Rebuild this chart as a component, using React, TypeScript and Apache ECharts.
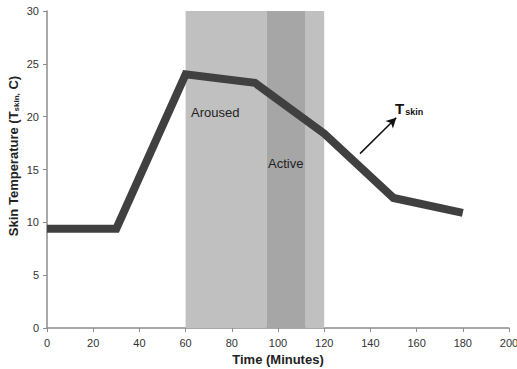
import React, { useEffect, useRef } from "react";
import * as echarts from "echarts";

const timeMinutes = [0, 30, 60, 90, 120, 150, 180];
const skinTemp = [9.4, 9.4, 24.0, 23.2, 18.4, 12.3, 10.9];
const arousedRange = [60, 120];
const activeRange = [95, 112];
const arrowFrom = [135.5, 16.5];
const arrowTo = [151.2, 19.9];

export default function App() {
  const ref = useRef<HTMLDivElement>(null);
  useEffect(() => {
    if (!ref.current) return;
    const chart = echarts.init(ref.current, undefined, { renderer: "svg" });
    const font = "Liberation Sans, Arial, sans-serif";
    chart.setOption({
      animation: false,
      textStyle: { fontFamily: font },
      grid: { left: 47, right: 8, top: 11, bottom: 41, containLabel: false, outerBoundsMode: "none" },
      xAxis: {
        type: "value",
        min: 0,
        max: 200,
        interval: 20,
        name: "Time (Minutes)",
        nameLocation: "middle",
        nameGap: 24,
        nameTextStyle: { fontWeight: "bold", fontSize: 13, color: "#222", fontFamily: font },
        axisLine: { lineStyle: { color: "#8c8c8c", width: 1.5 } },
        axisTick: { show: true, length: 4, lineStyle: { color: "#8c8c8c" } },
        axisLabel: { color: "#333", fontSize: 11, margin: 9, fontFamily: font },
        splitLine: { show: false },
      },
      yAxis: {
        type: "value",
        min: 0,
        max: 30,
        interval: 5,
        axisLine: { show: true, lineStyle: { color: "#8c8c8c", width: 1.5 } },
        axisTick: { show: true, length: 4, lineStyle: { color: "#8c8c8c" } },
        axisLabel: { color: "#333", fontSize: 11, margin: 8, fontFamily: font },
        splitLine: { show: false },
      },
      series: [
        {
          type: "line",
          data: timeMinutes.map((t, i) => [t, skinTemp[i]]),
          symbol: "none",
          lineStyle: { color: "#404040", width: 8, join: "miter" },
          z: 5,
          markArea: {
            silent: true,
            itemStyle: { color: "#c0c0c0" },
            data: [
              [{ xAxis: arousedRange[0] }, { xAxis: activeRange[0] }],
              [{ xAxis: activeRange[0], itemStyle: { color: "#a6a6a6" } }, { xAxis: activeRange[1] }],
              [{ xAxis: activeRange[1] }, { xAxis: arousedRange[1] }],
            ],
          },
          markLine: {
            silent: true,
            symbol: ["none", "arrow"],
            symbolSize: [8, 10],
            label: { show: false },
            lineStyle: { color: "#111", width: 1.5, type: "solid" },
            data: [[{ coord: arrowFrom }, { coord: arrowTo }]],
          },
        },
      ],
      graphic: [
        {
          type: "text",
          x: 13,
          y: 156,
          rotation: Math.PI / 2,
          z: 100,
          style: {
            text: "{a|Skin Temperature (T}{s|skin,}{a| C)}",
            align: "center",
            verticalAlign: "middle",
            rich: {
              a: { fontWeight: "bold", fontSize: 13, fill: "#222", fontFamily: font },
              s: { fontWeight: "bold", fontSize: 8, fill: "#222", fontFamily: font, padding: [6, 0, 0, 0] },
            },
          },
        },
        {
          type: "text",
          left: 191,
          top: 106,
          z: 100,
          style: { text: "Aroused", fontSize: 13, fill: "#222", fontFamily: font },
        },
        {
          type: "text",
          left: 268,
          top: 157,
          z: 100,
          style: { text: "Active", fontSize: 13, fill: "#222", fontFamily: font },
        },
        {
          type: "text",
          left: 395,
          top: 101,
          z: 100,
          style: {
            text: "{t|T}{s|skin}",
            rich: {
              t: { fontWeight: "bold", fontSize: 15, fill: "#111", fontFamily: font },
              s: { fontWeight: "bold", fontSize: 9, fill: "#111", fontFamily: font, padding: [6, 0, 0, 1] },
            },
          },
        },
      ],
    });
    return () => chart.dispose();
  }, []);
  return <div ref={ref} style={{ width: 517, height: 369, position: "absolute", left: 0, top: 0 }} />;
}
